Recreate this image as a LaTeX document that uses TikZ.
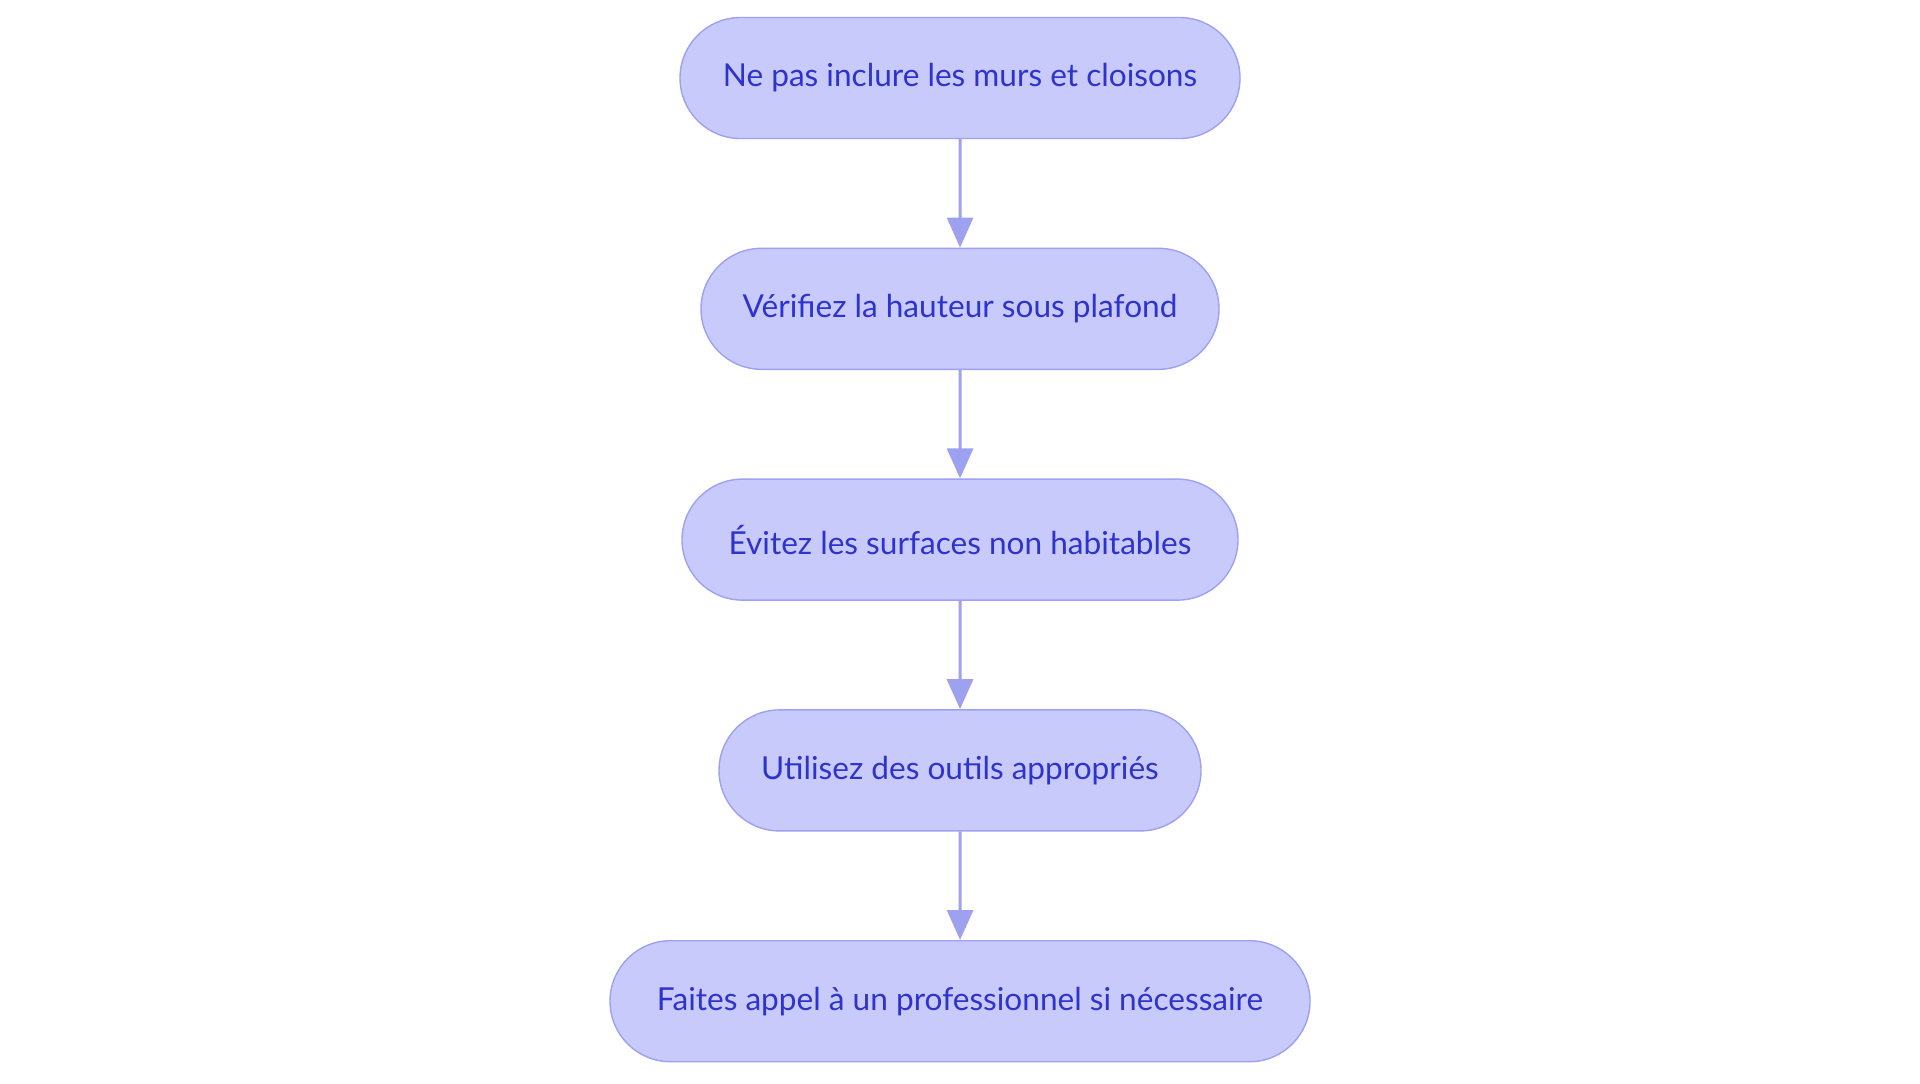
\documentclass[tikz,border=0pt]{standalone}
\usepackage{fontspec}
\setmainfont{Lato}
\usetikzlibrary{arrows.meta,positioning,shapes.misc}
\definecolor{stepfill}{HTML}{C8CAFC}
\definecolor{stepline}{HTML}{9DA1F0}
\definecolor{steptext}{HTML}{2E33CC}

\begin{document}
\begin{tikzpicture}[x=0.5pt,y=0.5pt,font=\fontsize{15.8pt}{18pt}\selectfont,
  stepbox/.style={rounded rectangle,draw=stepline,fill=stepfill,line width=0.7pt,
    text=steptext,minimum height=60.5pt,inner xsep=0pt},
  flow/.style={draw=stepline,line width=1.5pt,-{Triangle[length=15pt,width=13pt]}},
  node distance=54.2pt]
  \useasboundingbox (0,0) rectangle (1920,-1083);
  \node[stepbox,minimum width=280pt] (murs) at (960,-78) {Ne pas inclure les murs et cloisons};
  \node[stepbox,minimum width=259pt,below=of murs] (hauteur) {Vérifiez la hauteur sous plafond};
  \node[stepbox,minimum width=278pt,below=of hauteur] (surfaces) {Évitez les surfaces non habitables};
  \node[stepbox,minimum width=241pt,below=of surfaces] (outils) {Utilisez des outils appropriés};
  \node[stepbox,minimum width=350pt,below=of outils] (pro) {Faites appel à un professionnel si nécessaire};
  \foreach \a/\b in {murs/hauteur,hauteur/surfaces,surfaces/outils,outils/pro}
    \draw[flow] (\a) -- (\b);
\end{tikzpicture}
\end{document}
